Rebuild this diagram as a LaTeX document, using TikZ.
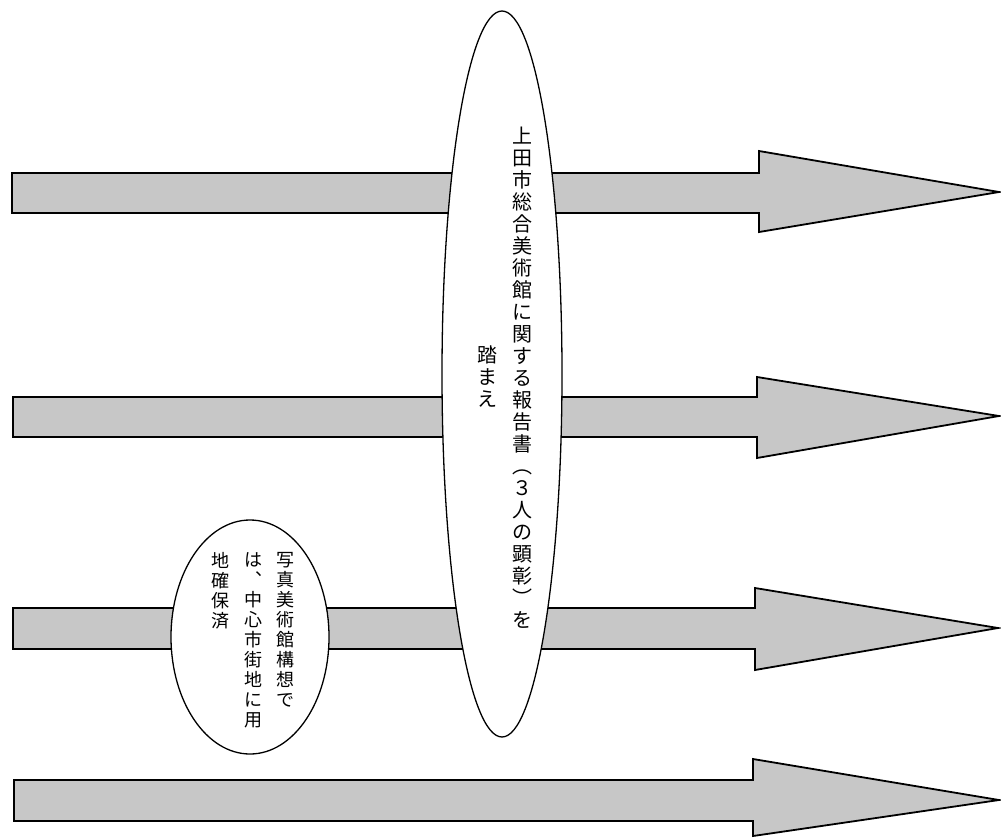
\documentclass[tikz,border=0pt]{standalone}
\usepackage{fontspec}
\usetikzlibrary{shapes.geometric}
\newfontfamily\cjk{Noto Sans CJK JP}
\begin{document}
\begin{tikzpicture}[x=1pt,y=-1pt,
  blockarrow/.style={draw=black,line width=1.8pt,fill=black!22,line join=miter},
  bubble/.style={draw=black,line width=1.3pt,fill=white},
  bigtext/.style={font=\cjk\fontsize{20}{22}\selectfont,align=center,inner sep=0pt,anchor=north},
  smalltext/.style={font=\cjk\fontsize{18}{20}\selectfont,align=center,inner sep=0pt,anchor=north}]
\useasboundingbox (0,0) rectangle (1001,838);
% arrows
\draw[blockarrow] (12,173) -- (759,173) -- (759,151) -- (999,192) -- (759,232) -- (759,213) -- (12,213) -- cycle;
\draw[blockarrow] (13,397) -- (757,397) -- (757,377) -- (999,416) -- (757,458) -- (757,437) -- (13,437) -- cycle;
\draw[blockarrow] (13,608) -- (755,608) -- (755,588) -- (998,628) -- (755,670) -- (755,649) -- (13,649) -- cycle;
\draw[blockarrow] (14,780) -- (753,780) -- (753,759) -- (999,800) -- (753,836) -- (753,821) -- (14,821) -- cycle;
% ellipses
\node[bubble,ellipse,minimum width=120pt,minimum height=726pt,inner sep=0pt] (big) at (502,374) {};
\node[bubble,ellipse,minimum width=158pt,minimum height=234pt,inner sep=0pt] (small) at (250,637) {};
% big ellipse text
\node[bigtext] (bigA) at (522,127) {上\\田\\市\\総\\合\\美\\術\\館\\に\\関\\す\\る\\報\\告\\書\\︵\\３\\人\\の\\顕\\彰\\︶\\を};
\node[bigtext] (bigB) at (487,346) {踏\\ま\\え};
% small ellipse text
\node[smalltext] (smA) at (285,552) {写\\真\\美\\術\\館\\構\\想\\で};
\node[smalltext] (smB) at (253,552) {は\\︑\\中\\心\\市\\街\\地\\に\\用};
\node[smalltext] (smC) at (220,552) {地\\確\\保\\済};
\end{tikzpicture}
\end{document}
